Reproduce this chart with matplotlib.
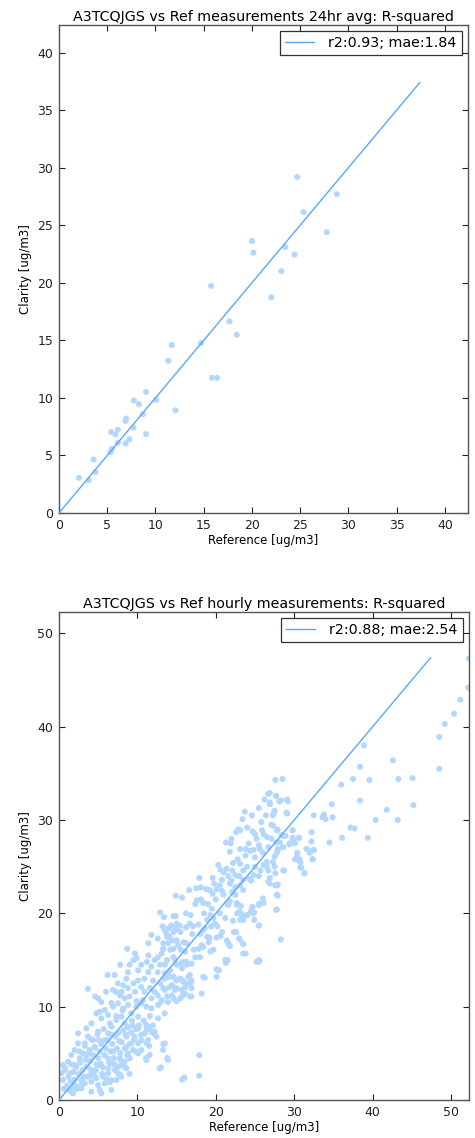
import matplotlib
matplotlib.use("Agg")
import matplotlib.pyplot as plt
import numpy as np

# ---------------- Data: 24hr averages ----------------
ref_24h = [2.07, 3.1, 3.59, 3.79, 5.34, 5.5, 5.41, 5.86, 6.1, 6.1, 6.9, 7.3, 6.9, 6.97,
           7.72, 7.76, 8.28, 8.69, 9.03, 9.03, 10.07, 12.07, 11.34, 11.69, 14.72, 15.86,
           16.38, 15.77, 17.67, 18.43, 20.01, 20.15, 22.0, 23.04, 23.45, 24.42, 24.69,
           25.35, 27.76, 28.8]
clar_24h = [3.05, 2.85, 4.65, 3.55, 5.29, 5.58, 7.03, 6.83, 7.24, 6.1, 6.05, 6.4, 8.0, 8.2,
            7.41, 9.77, 9.45, 8.58, 10.52, 6.86, 9.83, 8.92, 13.23, 14.59, 14.77, 11.74,
            11.74, 19.74, 16.65, 15.49, 23.63, 22.62, 18.74, 21.01, 23.11, 22.45, 29.2,
            26.14, 24.4, 27.7]

# ---------------- Data: hourly ----------------
ref_hourly = [
    # upper right sparse
    52.3, 52.2, 51.2, 50.4, 49.2, 48.5, 48.5, 42.6, 43.3, 45.1, 45.2, 41.8,
    38.9, 38.4, 37.5, 39.6, 36.0, 38.4, 43.2, 40.4, 34.8, 34.9, 33.8, 34.0, 33.6, 32.5,
    37.2, 37.7, 39.4, 36.1, 34.5, 32.2, 32.2, 32.5, 31.6, 32.0, 32.3, 30.6, 29.8, 29.8,
    29.4, 30.1, 30.4, 30.1, 30.7, 30.8, 30.9, 31.3, 28.7, 27.8, 27.6, 28.5, 27.7, 28.3,
    29.1, 26.9, 26.9, 27.5, 29.0, 27.3, 27.3, 27.9, 28.6, 28.9, 27.1, 27.7, 28.6, 27.9,
    27.5, 27.3, 27.5, 26.9,
    # zoom 6 region
    26.7, 27.7, 26.2, 26.9, 25.5, 23.7, 26.4, 24.6, 23.4, 27.4, 25.8, 29.1, 28.1, 29.2,
    27.1, 22.9, 23.1, 22.6, 24.0, 24.7, 25.0, 25.9, 26.1, 26.5, 27.8, 28.4, 29.8, 21.3,
    22.0, 21.9, 21.8, 23.1, 23.8, 24.8, 24.4, 25.5, 25.6, 26.7, 27.9, 28.2, 28.6, 29.4,
    29.9, 30.6, 30.4, 31.6, 32.1, 32.5, 30.6, 30.3, 30.8, 31.3, 32.4, 28.6, 27.9, 27.6,
    27.8, 27.8, 28.3, 26.7, 26.0, 26.1, 25.5, 24.7, 24.5, 24.9, 25.5, 25.4, 25.6, 23.5,
    23.5, 23.0, 23.4, 24.0, 23.3, 22.7, 23.2, 22.7, 21.3, 21.5, 20.1, 20.4, 18.6,
    # zoom 10 region
    17.9, 14.9, 15.7, 16.6, 17.5, 18.1, 17.6, 18.1, 18.4, 19.2, 19.6, 20.1, 20.8, 20.5,
    19.8, 20.3, 20.6, 21.0, 21.4, 22.1, 22.2, 23.1, 23.5, 22.5, 21.8, 22.5, 22.1, 23.1,
    23.5, 21.8, 21.6, 22.7, 24.3, 24.8, 25.0, 25.7, 26.1, 26.5, 26.7, 27.6, 27.8, 26.9,
    27.9, 27.7, 25.9, 25.5, 24.8, 24.6, 23.0, 23.3, 23.5, 24.0, 24.9, 25.5, 23.1, 22.3,
    23.0, 23.4, 23.8, 21.4, 21.6, 20.6, 20.1, 20.8, 25.2, 25.5, 21.2, 21.4, 20.3,
    19.3, 18.9, 19.7, 19.9, 19.4, 18.6, 18.4, 18.0, 18.9, 19.1, 18.4, 19.3, 19.7, 17.8,
    17.2, 17.4, 18.0, 16.9, 16.3, 15.5, 15.7, 14.6, 14.2, 14.0, 14.6, 15.0, 15.5, 15.9,
    16.5, 16.8, 16.9, 16.1, 14.8, 14.4, 13.3, 13.5, 13.8, 13.1, 13.8, 13.5, 14.0, 14.6,
    14.8, 15.0, 15.5, 15.9, 16.3, 15.0, 14.4, 13.3, 13.3, 14.2, 15.5, 16.1, 13.8, 14.4,
    15.5, 16.1, 16.9, 18.2, 18.4, 20.1, 16.9,
    # zoom 9 region
    12.9, 13.4, 14.9, 16.2, 13.2, 14.3, 15.0, 15.4, 16.7, 17.1, 11.8, 12.6, 11.4, 13.7,
    14.1, 14.6, 14.8, 13.9, 13.3, 14.6, 15.2,
    8.7, 9.7, 9.9, 9.5, 11.4, 11.2, 12.2, 12.6, 12.9, 11.8, 10.5, 10.1, 9.0, 8.8, 7.8,
    11.4, 12.6, 13.5, 13.9, 14.8, 15.0, 15.8, 16.3, 14.6, 15.4, 15.8, 16.5, 16.7, 13.5,
    12.9, 12.0, 10.9, 10.1, 9.5, 8.6, 8.2, 7.5, 7.1, 6.2, 6.9, 7.3, 8.0, 8.8, 9.7, 10.5,
    10.9, 11.6, 12.2, 12.6, 13.5, 14.1, 15.0, 15.6, 14.6, 15.0, 15.8, 16.7, 13.9, 13.1,
    11.8, 10.7, 9.9, 9.0, 8.4, 7.8, 6.7, 5.4, 4.6, 5.0, 3.7, 6.0,
    # zoom 8 region (dense lower left)
    2.43, 3.49, 3.70, 4.13, 4.77, 5.19, 5.83, 5.40, 6.26, 6.89, 7.53, 8.17, 8.81, 4.98,
    4.34, 3.28, 2.43, 2.0, 1.57, 1.15, 0.51, 0.72, 0.30, 0.51, 1.36, 2.0, 2.64, 3.06,
    3.91, 4.55, 5.83, 6.26, 6.68, 7.32, 7.96, 8.38, 9.23, 9.87, 10.09, 10.51, 11.15,
    11.79, 12.64, 13.06, 11.15, 11.57, 12.21, 10.94, 10.51, 10.09, 12.64, 13.49,
    2.43, 2.85, 3.28, 3.70, 4.13, 4.77, 4.98, 5.62, 5.83, 6.26, 6.68, 7.11, 7.53, 7.96,
    8.38, 8.60, 9.02, 8.81, 9.45, 9.87, 7.96, 7.32, 5.19, 6.68, 2.85, 1.57, 1.79, 4.13,
    5.40, 7.53, 8.60, 9.23, 9.66, 10.09, 10.51, 11.15, 11.57, 11.15, 10.09, 7.74, 8.38,
    7.74, 6.68, 6.26, 5.19, 4.13, 3.49, 11.36, 13.49, 13.91, 12.85, 13.28, 12.43, 11.79,
    # isolated low points
    15.7, 16.0, 17.9, 17.9, 13.8, 13.0, 11.1, 11.5, 13.3, 12.1, 9.0, 7.8, 6.5,
    # dense core
    1.0, 1.2, 1.5, 1.8, 2.0, 2.2, 2.5, 2.7, 3.0, 3.2, 3.4, 3.6, 3.8, 4.0, 4.2, 4.4, 4.6,
    4.8, 5.0, 5.2, 5.4, 5.6, 5.8, 6.0, 6.2, 6.4, 6.6, 6.8, 7.0, 7.2, 7.4, 7.6, 7.8, 8.0,
    8.2, 8.4, 8.6, 8.8, 9.0, 9.2, 9.4, 9.6, 9.8, 10.2, 10.5, 10.8, 11.2, 11.6, 12.0,
    1.4, 2.3, 3.1, 3.9, 4.7, 5.5, 6.3, 7.1, 7.9, 8.7, 2.6, 3.3, 4.1, 4.9, 5.7, 6.5, 7.3,
    8.1, 0.8, 1.6, 2.9, 4.5, 6.1, 5.3, 6.9, 7.7, 8.5, 9.3, 0.6, 1.9, 3.5, 5.1, 6.7,
    # mid cloud fill
    18.5, 19.0, 19.5, 20.0, 20.5, 21.0, 21.5, 22.0, 22.5, 23.0, 23.5, 24.0, 24.5, 25.0,
    25.5, 26.0, 26.5, 24.2, 25.2, 23.8, 22.8, 21.6, 20.8, 19.6, 18.8, 17.4, 16.8, 16.2,
    17.0, 17.8, 18.2, 19.2, 20.2, 21.2, 22.2, 22.6, 21.8,
]
clar_hourly = [
    47.3, 44.2, 42.9, 41.4, 40.3, 38.9, 35.5, 36.4, 34.4, 34.5, 31.6, 31.1,
    38.0, 35.7, 34.4, 34.3, 33.8, 32.1, 30.0, 30.0, 31.7, 30.3, 30.6, 30.1, 30.3, 30.5,
    29.2, 29.1, 28.1, 28.1, 27.6, 28.7, 27.7, 26.8, 26.9, 26.5, 25.8, 28.1, 28.9, 28.1,
    27.5, 27.5, 26.4, 25.8, 25.8, 25.5, 24.9, 24.3, 24.6, 26.5, 34.3, 34.4, 32.6, 32.1,
    32.2, 32.9, 31.9, 31.0, 30.8, 30.5, 29.4, 29.0, 28.3, 28.3, 28.0, 27.6, 27.1, 26.9,
    26.1, 25.5, 25.0, 23.8,
    32.8, 32.6, 32.2, 31.7, 31.3, 30.9, 30.5, 30.5, 30.1, 30.7, 29.8, 30.7, 32.0, 32.0,
    29.5, 29.0, 28.9, 28.7, 29.2, 28.8, 28.5, 28.9, 28.5, 28.2, 28.9, 28.4, 28.9, 27.6,
    28.0, 27.5, 26.6, 26.9, 26.9, 26.8, 26.7, 27.3, 26.9, 27.1, 26.8, 27.6, 27.1, 27.4,
    27.8, 28.1, 26.5, 26.9, 26.6, 26.8, 25.7, 25.9, 24.9, 24.3, 25.8, 24.6, 23.1, 23.0,
    22.0, 20.4, 17.2, 23.4, 21.6, 21.1, 21.0, 20.7, 20.2, 20.1, 18.7, 14.8, 14.9, 16.7,
    15.7, 17.3, 19.4, 19.8, 19.9, 20.9, 20.8, 20.0, 14.7, 15.0, 14.0, 13.9, 13.1,
    23.8, 21.9, 21.7, 22.5, 22.7, 22.8, 21.4, 21.5, 21.1, 22.5, 22.1, 22.6, 22.4, 23.0,
    23.2, 25.2, 24.7, 24.4, 24.8, 24.6, 25.4, 25.3, 24.6, 24.1, 23.2, 22.8, 22.3, 23.0,
    23.6, 21.3, 20.9, 21.1, 23.7, 24.1, 25.0, 24.6, 25.2, 25.5, 24.6, 24.3, 23.0, 23.2,
    21.9, 20.4, 21.1, 20.9, 20.0, 20.5, 20.2, 19.9, 19.3, 19.8, 19.3, 18.7, 19.3, 18.0,
    17.3, 16.8, 15.7, 17.1, 16.8, 17.6, 17.4, 18.0, 14.8, 15.0, 15.0, 14.9, 13.9,
    19.8, 19.3, 19.5, 18.9, 18.6, 18.4, 18.2, 17.8, 17.5, 16.9, 16.4, 15.9, 16.1, 16.2,
    16.1, 15.3, 15.3, 14.6, 14.8, 14.6, 14.1, 15.3, 13.9, 13.2, 13.2, 12.8, 13.0, 12.7,
    13.2, 12.5, 12.0, 12.1, 11.8, 12.3, 12.0, 13.6, 15.0, 15.7, 17.5, 18.2, 18.4, 19.7,
    18.2, 18.9, 18.0, 16.9, 16.8, 17.1, 17.1, 16.8, 16.2, 16.1, 16.1, 15.9, 11.1, 11.2,
    10.9, 11.4, 11.1, 11.4, 13.2, 13.2, 12.8,
    20.1, 19.6, 19.7, 20.0, 18.6, 18.7, 18.4, 18.7, 18.9, 18.6, 17.7, 17.3, 16.8, 17.8,
    17.5, 18.0, 17.1, 16.8, 16.2, 16.2, 16.6,
    16.2, 15.7, 15.2, 15.0, 15.5, 14.8, 15.0, 15.3, 14.5, 14.3, 14.5, 13.9, 14.5, 13.7, 14.5,
    13.7, 13.7, 14.5, 13.7, 15.0, 14.5, 14.8, 14.5, 13.2, 13.0, 12.7, 12.5, 13.4, 13.0,
    12.5, 12.8, 13.0, 12.8, 12.5, 13.0, 12.3, 12.5, 13.4, 13.4, 11.8, 11.6, 11.6, 12.0,
    11.6, 12.1, 11.6, 12.0, 11.6, 11.2, 11.8, 12.1, 12.0, 11.8, 10.9, 10.6, 11.2, 11.1,
    10.5, 10.7, 10.9, 10.7, 10.6, 11.1, 10.9, 11.2, 10.4, 10.5, 11.1, 10.9, 11.9, 11.6,
    7.14, 7.68, 6.79, 8.21, 9.29, 9.46, 9.64, 8.75, 9.11, 10.0, 10.36, 9.82, 10.18, 7.32,
    6.43, 6.07, 6.07, 5.36, 4.82, 4.11, 3.75, 3.21, 2.86, 2.14, 2.86, 3.75, 4.46, 5.0,
    5.36, 5.71, 6.43, 7.14, 7.86, 8.57, 8.93, 8.21, 9.29, 10.0, 8.93, 10.36, 10.0,
    9.82, 10.18, 10.54, 8.04, 7.86, 7.32, 7.14, 6.43, 7.68, 8.75, 9.29,
    1.43, 2.14, 1.79, 2.5, 1.96, 2.32, 1.61, 2.5, 1.79, 2.86, 2.14, 3.21, 3.57, 3.75,
    4.11, 3.39, 4.46, 5.0, 5.36, 5.18, 2.5, 2.14, 1.07, 1.07, 1.25, 1.07, 0.71, 0.89,
    0.71, 2.86, 5.71, 6.07, 6.79, 6.07, 5.36, 6.07, 4.82, 4.29, 5.0, 2.68, 3.57,
    4.46, 3.93, 4.46, 3.75, 3.21, 3.57, 6.43, 6.07, 4.29, 3.39, 5.36, 6.79, 7.32,
    2.2, 2.4, 2.6, 4.8, 4.5, 3.5, 4.5, 5.8, 6.0, 7.1, 2.8, 2.7, 1.9,
    1.5, 2.5, 2.0, 3.0, 2.2, 3.5, 2.8, 4.0, 3.2, 2.5, 4.3, 3.6, 5.0, 4.2, 3.0, 4.8, 5.6,
    3.8, 4.5, 5.2, 6.0, 3.5, 4.8, 5.5, 6.4, 4.0, 5.2, 6.0, 4.5, 6.8, 5.5, 7.2, 5.0, 6.2,
    7.5, 5.5, 6.8, 7.8, 6.0, 7.2, 8.0, 6.5, 7.6, 8.0, 7.0, 8.5, 7.6, 9.0, 8.0,
    1.0, 1.2, 1.8, 2.6, 3.2, 2.8, 3.4, 3.8, 4.3, 4.8, 5.2, 5.8, 6.5, 7.0, 7.6, 8.2, 9.0,
    9.6, 3.4, 3.8, 2.0, 2.6, 2.2, 3.9, 5.2, 6.3, 7.0, 8.5, 1.2, 1.6, 4.8, 6.4, 7.0,
    20.0, 21.0, 20.5, 21.5, 20.0, 22.0, 21.0, 23.5, 22.0, 24.0, 22.5, 25.0, 23.5, 26.0,
    24.0, 26.5, 25.0, 27.5, 28.0, 26.2, 25.8, 24.0, 23.6, 23.8, 22.6, 21.0, 19.8, 18.5,
    17.8, 18.8, 16.6, 17.4, 18.6, 19.5, 19.2, 18.0, 16.5,
]

line_24h = [0, 37.4]
line_hourly = [0, 47.4]
legend_24h = "r2:0.93; mae:1.84"
legend_hourly = "r2:0.88; mae:2.54"
title_24h = "A3TCQJGS vs Ref measurements 24hr avg: R-squared"
title_hourly = "A3TCQJGS vs Ref hourly measurements: R-squared"
xlabel = "Reference [ug/m3]"
ylabel = "Clarity [ug/m3]"

POINT_COLOR = "#b3d7ff"
LINE_COLOR = "#58a8ff"

fig = plt.figure(figsize=(4.75, 11.38), dpi=100)
fig.patch.set_facecolor("white")

W, H = 475, 1138
def ax_rect(x0, y0, x1, y1):
    return [x0 / W, 1 - y1 / H, (x1 - x0) / W, (y1 - y0) / H]

ax1 = fig.add_axes(ax_rect(59, 25, 468, 513))
ax2 = fig.add_axes(ax_rect(59, 612, 469, 1100))

def style(ax, lim, ticks, xs, ys, line, title, leg):
    ax.scatter(xs, ys, s=19, color=POINT_COLOR, edgecolors="none", zorder=2)
    ax.plot(line, line, color=LINE_COLOR, lw=1.0, label=leg, zorder=3)
    ax.set_xlim(0, lim)
    ax.set_ylim(0, lim)
    ax.set_xticks(ticks)
    ax.set_yticks(ticks)
    ax.tick_params(direction="in", top=True, right=True, length=4, width=0.8,
                   labelsize=9, colors="#222222", pad=4)
    for sp in ax.spines.values():
        sp.set_color("#555555")
        sp.set_linewidth(1.0)
    ax.set_title(title, fontsize=10.3, pad=3)
    ax.set_xlabel(xlabel, fontsize=8.5, labelpad=2)
    ax.set_ylabel(ylabel, fontsize=8.5, labelpad=4)
    lg = ax.legend(loc="upper right", fontsize=10.3, frameon=True, fancybox=False,
                   handlelength=2.0, handletextpad=1.0, borderpad=0.35,
                   borderaxespad=0.45)
    lg.get_frame().set_edgecolor("black")
    lg.get_frame().set_linewidth(0.9)

style(ax1, 42.4, np.arange(0, 41, 5), ref_24h, clar_24h, line_24h, title_24h, legend_24h)
style(ax2, 52.3, np.arange(0, 51, 10), ref_hourly, clar_hourly, line_hourly, title_hourly, legend_hourly)

fig.savefig("out.png", dpi=100, facecolor="white")
